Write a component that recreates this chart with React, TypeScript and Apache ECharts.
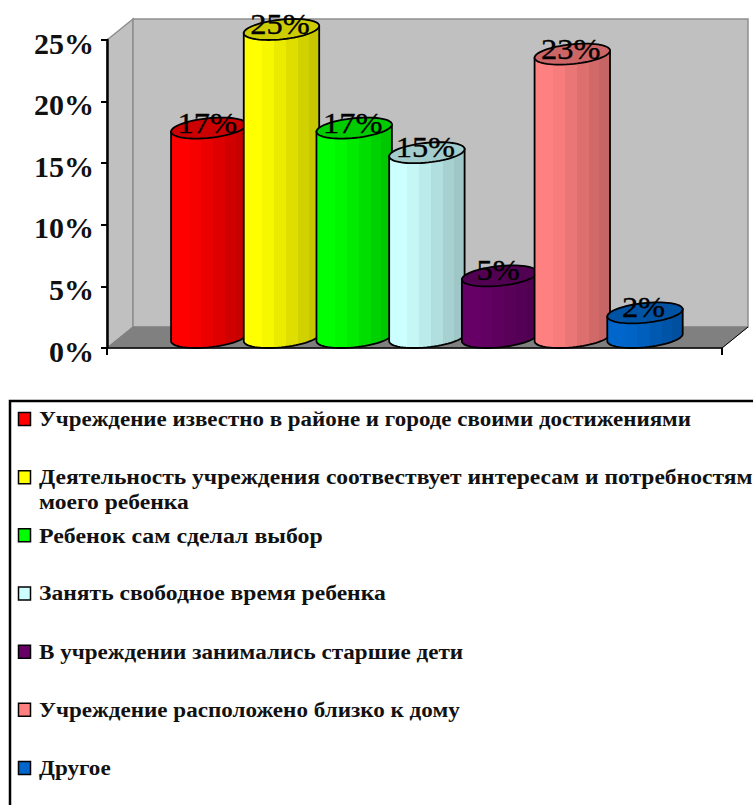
import React, { useEffect, useRef } from "react";
import * as echarts from "echarts";

const legendNames = [
  "Учреждение известно в районе и городе своими достижениями",
  "Деятельность учреждения соотвествует интересам и потребностям\nмоего ребенка",
  "Ребенок сам сделал выбор",
  "Занять свободное время ребенка",
  "В учреждении занимались старшие дети",
  "Учреждение расположено близко к дому",
  "Другое",
];
const values = [17, 25, 17, 15, 5, 23, 2];
const colors = ["#ff0000", "#ffff00", "#00ff00", "#ccffff", "#660066", "#ff8080", "#0066cc"];
const yTicks = [0, 5, 10, 15, 20, 25];
const legendStretch = [1.148, 1.178, 1.193, 1.179, 1.155, 1.155, 1.155];

const FONT = '"Liberation Serif", serif';
const DEPTH_X = 26;
const DEPTH_Y = 21;

function shade(hex: string, k: number) {
  const n = parseInt(hex.slice(1), 16);
  const f = (v: number) => Math.round(v * k);
  return `rgb(${f((n >> 16) & 255)},${f((n >> 8) & 255)},${f(n & 255)})`;
}

function bandGradient(hex: string) {
  const bands = [
    [0, 0.24, 1],
    [0.24, 0.4, 0.97],
    [0.4, 0.56, 0.92],
    [0.56, 0.72, 0.87],
    [0.72, 0.86, 0.82],
    [0.86, 1, 0.78],
  ];
  const colorStops: any[] = [];
  bands.forEach(([a, b, k]) => {
    colorStops.push({ offset: a, color: shade(hex, k) }, { offset: b, color: shade(hex, k) });
  });
  return { type: "linear", x: 0, y: 0, x2: 1, y2: 0, colorStops };
}

function renderBar(params: any, api: any) {
  const i = api.value(0);
  const v = api.value(1);
  const color = colors[params.dataIndex];
  const top = api.coord([i, v]);
  const bottom = api.coord([i, 0]);
  const cx = top[0] + DEPTH_X / 2;
  const R = 35.4;
  const dx = DEPTH_X / 2;
  const ry = DEPTH_Y / 2;
  const cyTop = top[1] - ry;
  const cyBot = bottom[1] - ry;
  const pt = (t: number, cy: number) => [cx + R * Math.cos(t) + dx * Math.sin(t), cy - ry * Math.sin(t)];
  const t0 = Math.atan2(dx, R);
  const N = 32;
  const frontArc: number[][] = [];
  for (let k = 0; k <= N; k++) frontArc.push(pt(t0 + Math.PI + (Math.PI * k) / N, cyBot));
  const body = [...frontArc, pt(t0, cyTop), pt(t0 + Math.PI, cyTop)];
  const ell: number[][] = [];
  for (let k = 0; k < 2 * N; k++) ell.push(pt((Math.PI * k) / N, cyTop));
  return {
    type: "group",
    children: [
      {
        type: "polygon",
        shape: { points: body },
        style: { fill: bandGradient(color), stroke: "#000", lineWidth: 1.8 },
      },
      {
        type: "polygon",
        shape: { points: ell },
        style: { fill: shade(color, 0.8), stroke: "#000", lineWidth: 1.8 },
      },
      {
        type: "text",
        z2: 100,
        x: cx - 1.5,
        y: cyTop - 5.5,
        scaleX: 1.08,
        style: {
          x: 0,
          y: 0,
          text: `${v}%`,
          fill: "#000",
          stroke: "#000",
          lineWidth: 0.35,
          font: `400 30px ${FONT}`,
          align: "center",
          verticalAlign: "middle",
        },
      },
    ],
  };
}

const LEFT = 107;
const RIGHT = 722;
const TOP = 40;
const BASE = 348;

export default function App() {
  const ref = useRef<HTMLDivElement>(null);
  useEffect(() => {
    const chart = echarts.init(ref.current!, undefined, { renderer: "svg" });
    const wallStroke = { stroke: "#8e8e8e", lineWidth: 1.5 };
    const legendItems: any[] = [];
    legendNames.forEach((name, i) => {
      const cy = 419 + i * 58.17;
      legendItems.push({
        type: "rect",
        shape: { x: 18.5, y: cy - 6.5, width: 12, height: 13 },
        style: { fill: colors[i], stroke: "#000", lineWidth: 1.5 },
      });
      legendItems.push({
        type: "text",
        x: 39,
        y: cy - 12,
        scaleX: legendStretch[i],
        style: {
          text: name,
          fill: "#111",
          font: `700 20px ${FONT}`,
          lineHeight: 25,
          align: "left",
          verticalAlign: "top",
        },
      });
    });
    chart.setOption({
      animation: false,
      grid: { left: LEFT, right: 753 - RIGHT, top: TOP, bottom: 805 - BASE, containLabel: false },
      xAxis: {
        type: "value",
        min: -1.221,
        max: 7.238,
        splitLine: { show: false },
        axisLabel: { show: false },
        axisLine: { show: true, onZero: false, lineStyle: { color: "#000", width: 1.5 } },
        axisTick: { show: true, customValues: [-1.221, 7.238], length: 7, lineStyle: { color: "#000", width: 2 } },
      },
      yAxis: {
        type: "value",
        min: yTicks[0],
        max: yTicks[yTicks.length - 1],
        interval: 5,
        splitLine: { show: false },
        axisLine: { show: true, onZero: false, lineStyle: { color: "#000", width: 2.5 } },
        axisTick: { show: true, length: 6, lineStyle: { color: "#000", width: 2 } },
        axisLabel: {
          formatter: "{value}%",
          color: "#111",
          fontFamily: FONT,
          fontWeight: 700,
          fontSize: 30,
          margin: 13,
          verticalAlign: "top",
          lineHeight: 6,
        },
      },
      graphic: {
        elements: [
          {
            type: "polygon",
            z: -3,
            shape: { points: [[LEFT, TOP], [LEFT + DEPTH_X, TOP - DEPTH_Y], [LEFT + DEPTH_X, BASE - DEPTH_Y], [LEFT, BASE]] },
            style: { fill: "#c0c0c0", ...wallStroke },
          },
          {
            type: "rect",
            z: -3,
            shape: { x: LEFT + DEPTH_X, y: TOP - DEPTH_Y, width: RIGHT - LEFT, height: BASE - TOP },
            style: { fill: "#c0c0c0", ...wallStroke },
          },
          {
            type: "polygon",
            z: -2,
            shape: { points: [[LEFT, BASE], [LEFT + DEPTH_X, BASE - DEPTH_Y], [RIGHT + DEPTH_X, BASE - DEPTH_Y], [RIGHT, BASE]] },
            style: { fill: "#808080", stroke: "#808080", lineWidth: 1 },
          },
          {
            type: "line",
            z: -1,
            shape: { x1: RIGHT, y1: BASE, x2: RIGHT + DEPTH_X, y2: BASE - DEPTH_Y },
            style: { stroke: "#000", lineWidth: 1 },
          },
          {
            type: "rect",
            shape: { x: 10, y: 401, width: 800, height: 500 },
            style: { fill: "#fff", stroke: "#000", lineWidth: 2.5 },
          },
          ...legendItems,
        ],
      },
      series: [
        {
          type: "custom",
          coordinateSystem: "cartesian2d",
          renderItem: renderBar,
          clip: false,
          encode: { x: 0, y: 1 },
          data: values.map((v, i) => [i, v]),
        },
      ],
    });
    return () => chart.dispose();
  }, []);
  return <div ref={ref} style={{ position: "absolute", left: 0, top: 0, width: 753, height: 805, background: "#fff" }} />;
}
